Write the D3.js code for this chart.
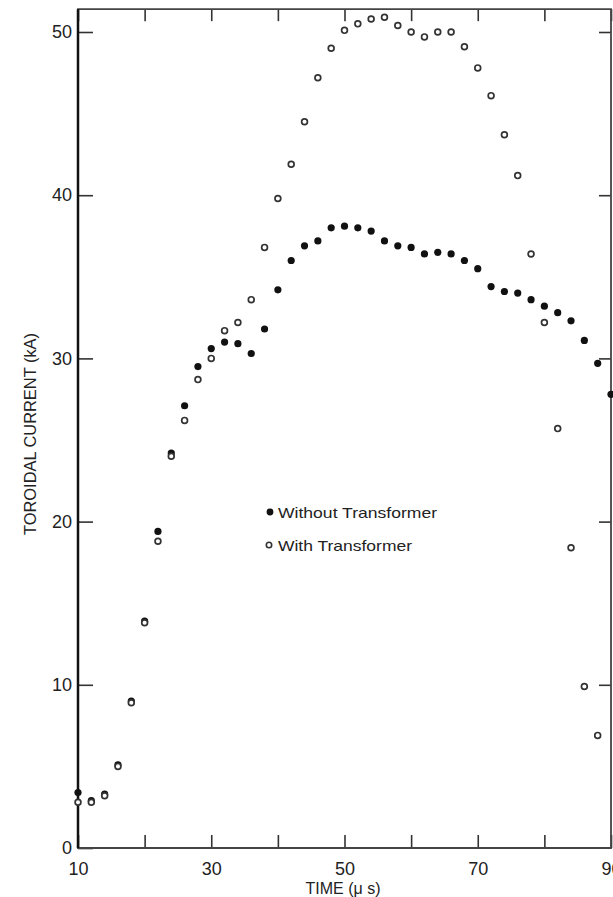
<!DOCTYPE html>
<html>
<head>
<meta charset="utf-8">
<script src="https://cdn.jsdelivr.net/npm/d3@7"></script>
<style>
body{margin:0;background:#fff;}
svg{display:block;}
text{font-family:"Liberation Sans",Arial,sans-serif;fill:#222;}
</style>
</head>
<body>
<div id="chart"></div>
<script>
// data
var times=[10,12,14,16,18,20,22,24,26,28,30,32,34,36,38,40,42,44,46,48,50,
           52,54,56,58,60,62,64,66,68,70,72,74,76,78,80,82,84,86,88,90];
var withoutTransformer=[3.4,2.9,3.3,5.1,9.0,13.9,19.4,24.2,27.1,29.5,30.6,31.0,30.9,30.3,31.8,34.2,36.0,36.9,37.2,38.0,38.1,
           38.0,37.8,37.2,36.9,36.8,36.4,36.5,36.4,36.0,35.5,34.4,34.1,34.0,33.6,33.2,32.8,32.3,31.1,29.7,27.8];
var withTransformer=[2.8,2.8,3.2,5.0,8.9,13.8,18.8,24.0,26.2,28.7,30.0,31.7,32.2,33.6,36.8,39.8,41.9,44.5,47.2,49.0,50.1,
           50.5,50.8,50.9,50.4,50.0,49.7,50.0,50.0,49.1,47.8,46.1,43.7,41.2,36.4,32.2,25.7,18.4,9.9,6.9,null];
var xTicks=[10,20,30,40,50,60,70,80,90];
var xLabels=[10,30,50,70,90];
var yTicks=[0,10,20,30,40,50];
var legendLabels=["Without Transformer","With Transformer"];

var W=613,H=897;
var x=d3.scaleLinear().domain([10,90]).range([78,611]);
var y=d3.scaleLinear().domain([0,50]).range([848,32]);
var yTop=51.4;

var svg=d3.select("#chart").append("svg").attr("width",W).attr("height",H);

// axes (ticks point inward)
var gx=svg.append("g").attr("transform","translate(0,"+y(0)+")")
  .call(d3.axisBottom(x).tickValues(xTicks).tickSizeInner(-13).tickSizeOuter(0).tickPadding(14)
    .tickFormat(function(d){return xLabels.indexOf(d)>=0?d:"";}));
gx.selectAll("text").attr("font-size",18).attr("font-family","Liberation Sans, Arial, sans-serif").attr("fill","#222");

var gy=svg.append("g").attr("transform","translate("+x(10)+",0)")
  .call(d3.axisLeft(y).tickValues(yTicks).tickSizeInner(-15).tickSizeOuter(0).tickPadding(6));
gy.selectAll("text").attr("font-size",18).attr("font-family","Liberation Sans, Arial, sans-serif").attr("fill","#222");

svg.append("g").attr("transform","translate(0,"+y(yTop)+")")
  .call(d3.axisTop(x).tickValues(xTicks).tickSizeInner(-12).tickSizeOuter(0).tickFormat(""));
svg.append("g").attr("transform","translate("+x(90)+",0)")
  .call(d3.axisRight(y).tickValues(yTicks.slice(1)).tickSizeInner(-12).tickSizeOuter(0).tickFormat(""));

svg.selectAll(".domain").remove();
svg.selectAll(".tick line").attr("stroke","#333").attr("stroke-width",1.6);

// frame
svg.append("path")
  .attr("d","M"+x(10)+","+y(0)+"V"+y(yTop)+"H"+x(90)+"V"+y(0)+"Z")
  .attr("fill","none").attr("stroke","#444").attr("stroke-width",1.8);
svg.append("line").attr("x1",x(10)).attr("x2",x(10)).attr("y1",y(0)).attr("y2",y(yTop))
  .attr("stroke","#111").attr("stroke-width",2.5);

// axis titles
svg.append("text").attr("x",343).attr("y",894).attr("text-anchor","middle")
  .attr("font-size",16).text("TIME (\u03bc s)");
svg.append("text").attr("transform","translate(36,434) rotate(-90)").attr("text-anchor","middle")
  .attr("font-size",16).attr("textLength",202).attr("lengthAdjust","spacingAndGlyphs")
  .text("TOROIDAL CURRENT (kA)");

// points
var pts=svg.append("g");
pts.selectAll("circle.without").data(times.map(function(t,i){return [t,withoutTransformer[i]];}))
  .enter().append("circle").attr("class","without")
  .attr("cx",function(d){return x(d[0]);}).attr("cy",function(d){return y(d[1]);})
  .attr("r",3.6).attr("fill","#111");
pts.selectAll("circle.with").data(times.map(function(t,i){return [t,withTransformer[i]];}).filter(function(d){return d[1]!=null;}))
  .enter().append("circle").attr("class","with")
  .attr("cx",function(d){return x(d[0]);}).attr("cy",function(d){return y(d[1]);})
  .attr("r",2.9).attr("fill","#fff").attr("stroke","#333").attr("stroke-width",1.7);

// legend
var lg=svg.append("g");
lg.append("circle").attr("cx",270).attr("cy",512).attr("r",3.4).attr("fill","#111");
lg.append("text").attr("x",278).attr("y",518).attr("font-size",15)
  .attr("textLength",159).attr("lengthAdjust","spacingAndGlyphs").text(legendLabels[0]);
lg.append("circle").attr("cx",269).attr("cy",545).attr("r",2.7).attr("fill","#fff").attr("stroke","#333").attr("stroke-width",1.6);
lg.append("text").attr("x",278).attr("y",551).attr("font-size",15)
  .attr("textLength",134).attr("lengthAdjust","spacingAndGlyphs").text(legendLabels[1]);
</script>
</body>
</html>
